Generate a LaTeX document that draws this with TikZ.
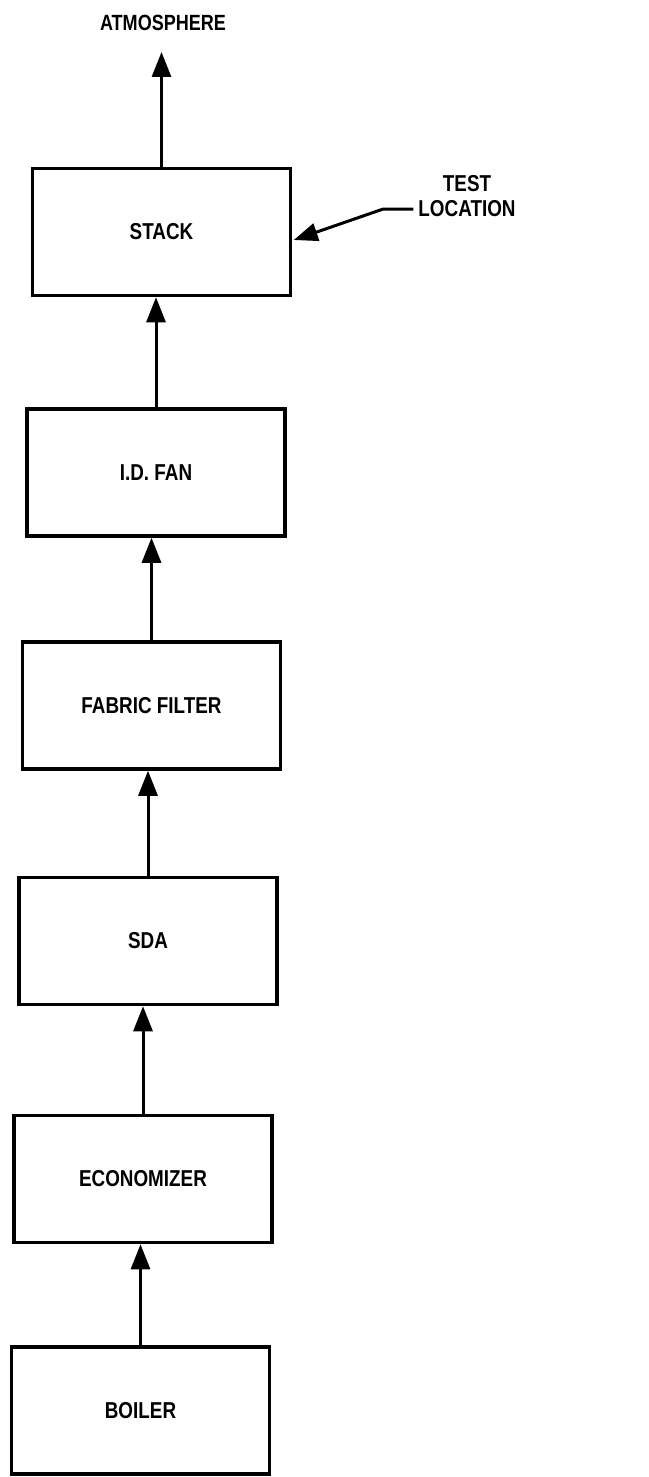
\documentclass[tikz,border=0pt]{standalone}
\usepackage{fontspec}
\setmainfont{Liberation Sans}
\newfontfamily\lblfont[FakeStretch=0.82]{Liberation Sans}
\usetikzlibrary{arrows.meta}
\begin{document}
\begin{tikzpicture}[x=1pt,y=-1pt,
  blk/.style={draw, line width=3.5pt, minimum width=258pt, minimum height=127pt, inner sep=0pt,
    font=\lblfont\bfseries\fontsize{23}{25}\selectfont},
  flow/.style={line width=3pt, -{Triangle[width=19pt,length=25pt]}},
  lbl/.style={font=\lblfont\bfseries\fontsize{23}{25}\selectfont, align=center, inner sep=0pt}]
\useasboundingbox[fill=white] (0,0) rectangle (648,1477);

\node[blk] (stack)  at (161.5,232)   {STACK};
\node[blk] (idfan)  at (156,472.5)   {I.D. FAN};
\node[blk] (fabric) at (151.5,705.5) {FABRIC FILTER};
\node[blk] (sda)    at (148,941)     {SDA};
\node[blk] (econ)   at (143,1179)    {ECONOMIZER};
\node[blk] (boiler) at (140.5,1410.5){BOILER};

\node[lbl, font=\lblfont\bfseries\fontsize{22}{25}\selectfont] (atm) at (163,23) {ATMOSPHERE};
\node[lbl] (test) at (467,196.5) {TEST\\LOCATION};

\draw[flow, shorten >=21pt] (stack.north) -- (stack.north |- atm.south);
\draw[flow] (idfan.north)  -- (idfan.north |- stack.south);
\draw[flow] (fabric.north) -- (fabric.north |- idfan.south);
\draw[flow] (sda.north)    -- (sda.north |- fabric.south);
\draw[flow] (econ.north)   -- (econ.north |- sda.south);
\draw[flow] (boiler.north) -- (boiler.north |- econ.south);

\coordinate (tl) at ([xshift=-5pt,yshift=-12.5pt]test.west);
\coordinate (tb) at ([xshift=-30pt]tl);
\draw[line width=3pt, -{Triangle[width=18pt,length=24pt]}]
  (tl) -- (tb) -- ([xshift=1.5pt,yshift=-8pt]stack.east);
\end{tikzpicture}
\end{document}
